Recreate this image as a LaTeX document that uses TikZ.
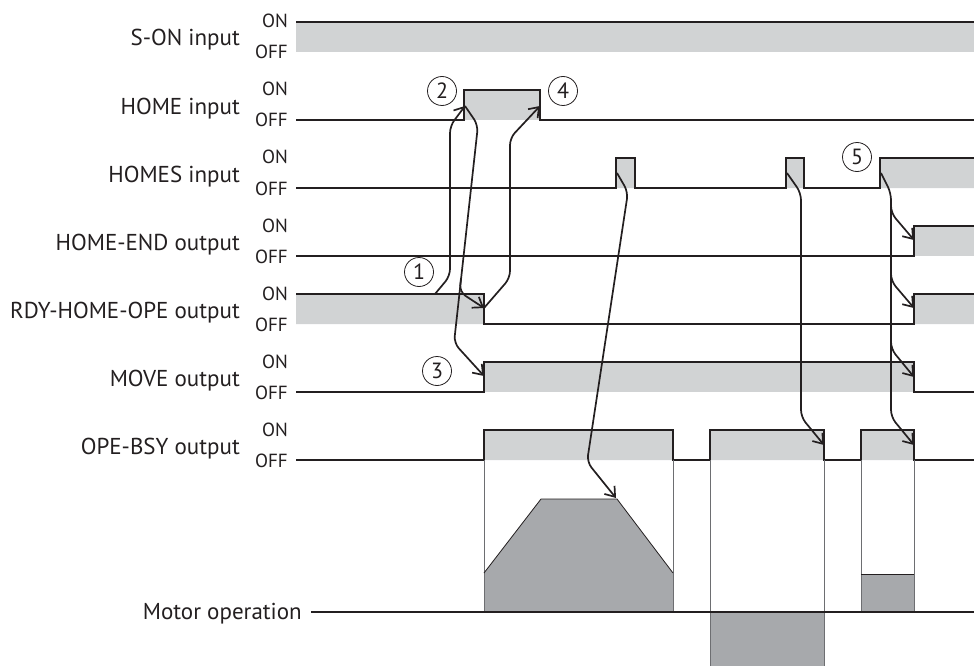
\documentclass[tikz,border=0pt]{standalone}
\usepackage{fontspec}
\setmainfont{PT Sans}
\usepackage{tikz}
\usetikzlibrary{arrows.meta,calc}
\definecolor{LevelFill}{HTML}{D1D3D4}
\definecolor{MotorFill}{HTML}{A7A9AC}
\definecolor{TraceInk}{HTML}{231F20}
\definecolor{GuideGray}{HTML}{6D6E71}

\begin{document}
\begin{tikzpicture}[
  x=1pt,y=-1pt,
  line join=miter,
  trace/.style={draw=TraceInk,line width=1.1pt},
  guide/.style={draw=GuideGray,line width=.55pt},
  cause/.style={-{Straight Barb[length=9pt,width=13pt]},draw=TraceInk,
    line width=1.7pt,rounded corners=7pt},
  signame/.style={anchor=base east,inner sep=0pt,text=TraceInk,
    font=\fontsize{23}{27}\selectfont},
  lvl/.style={anchor=base east,inner sep=0pt,text=TraceInk,
    font=\fontsize{19}{22}\selectfont},
  stepmark/.style={circle,draw=TraceInk,line width=.8pt,minimum size=29pt,
    inner sep=0pt,text=TraceInk,font=\fontsize{22}{26}\selectfont}
]
  \useasboundingbox (0,0) rectangle (974,666);

  % signal names and levels
  \node[signame] (sonname) at (240,46) {S-ON input};
  \node[lvl] (sonon) at (288,28) {ON};
  \node[lvl] (sonoff) at (288,59) {OFF};
  \node[signame] (homename) at (240,114) {HOME input};
  \node[lvl] (homeon) at (288,96) {ON};
  \node[lvl] (homeoff) at (288,127) {OFF};
  \node[signame] (homesname) at (240,182) {HOMES input};
  \node[lvl] (homeson) at (288,164) {ON};
  \node[lvl] (homesoff) at (288,195) {OFF};
  \node[signame] (endname) at (240,250) {HOME-END output};
  \node[lvl] (endon) at (288,232) {ON};
  \node[lvl] (endoff) at (288,263) {OFF};
  \node[signame] (rdyname) at (240,318) {RDY-HOME-OPE output};
  \node[lvl] (rdyon) at (288,300) {ON};
  \node[lvl] (rdyoff) at (288,331) {OFF};
  \node[signame] (movename) at (240,386) {MOVE output};
  \node[lvl] (moveon) at (288,368) {ON};
  \node[lvl] (moveoff) at (288,399) {OFF};
  \node[signame] (bsyname) at (240,454) {OPE-BSY output};
  \node[lvl] (bsyon) at (288,436) {ON};
  \node[lvl] (bsyoff) at (288,467) {OFF};
  \node[signame] (motorname) at (302,619) {Motor operation};

  % waveforms
  \fill[LevelFill] (296,22) rectangle (974,52);
  \draw[trace] (296,22) -- (974,22);

  \fill[LevelFill] (464,90) rectangle (540,120);
  \draw[trace] (296,120) -| (464,90) -| (540,120) -- (974,120);

  \fill[LevelFill] (616,158) rectangle (635,188) (786,158) rectangle (804,188)
    (880,158) rectangle (974,188);
  \draw[trace] (296,188) -| (616,158) -| (635,188) -| (786,158) -| (804,188)
    -| (880,158) -- (974,158);

  \fill[LevelFill] (914,226) rectangle (974,256);
  \draw[trace] (296,256) -| (914,226) -- (974,226);

  \fill[LevelFill] (296,294) rectangle (484,324) (914,294) rectangle (974,324);
  \draw[trace] (296,294) -| (484,324) -| (914,294) -- (974,294);

  \fill[LevelFill] (484,362) rectangle (914,392);
  \draw[trace] (296,392) -| (484,362) -| (914,392) -- (974,392);

  \fill[LevelFill] (484,430) rectangle (673,460) (710,430) rectangle (824,460)
    (861,430) rectangle (914,460);
  \draw[trace] (296,460) -| (484,430) -| (673,460) -| (710,430) -| (824,460)
    -| (861,430) -| (914,460) -- (974,460);

  % motor operation
  \fill[MotorFill] (484,612) -- (484,573) -- (541,499) -- (617,499)
    -- (673,573) -- (673,612) -- cycle;
  \fill[MotorFill] (710,612) rectangle (824,666);
  \fill[MotorFill] (861,574) rectangle (914,612);
  \draw[guide] (484,460) -- (484,612) (673,460) -- (673,612)
    (710,460) -- (710,666) (824,460) -- (824,666)
    (861,460) -- (861,612) (914,460) -- (914,612);
  \draw[trace,line width=.8pt] (484,573) -- (541,499) -- (617,499) -- (673,573);
  \draw[trace,line width=.8pt] (861,574) -- (914,574);
  \draw[trace] (311,612) -- (974,612);

  % causes
  \coordinate (rdyon1) at (435,294);
  \coordinate (homerise) at (465,106);
  \coordinate (homefall) at (540,106);
  \coordinate (rdyfall) at (484,308);
  \coordinate (moverise) at (484,376);
  \coordinate (pulsea) at (617,173);
  \coordinate (pulseb) at (787,173);
  \coordinate (homesrise) at (881,173);
  \coordinate (speedtop) at (616,498);
  \coordinate (bsyfallb) at (824,445);
  \coordinate (bsyfallc) at (914,445);
  \coordinate (endrise) at (914,240);
  \coordinate (rdyrise) at (914,308);
  \coordinate (movefall) at (914,377);

  \draw[cause] (rdyon1) -- (450,276) -- (450,126) -- (homerise);
  \draw[cause] (homerise) -- (478,125) -- (454,343) -- (moverise);
  \draw[cause] (461,278) -- (459.6,292) -- (rdyfall);
  \draw[cause] (rdyfall) -- (510,278) -- (510,138) -- (homefall);
  \draw[cause] (pulsea) -- (628,192) -- (587,462) -- (speedtop);
  \draw[cause] (pulseb) -- (801,193) -- (801,417) -- (bsyfallb);
  \draw[cause] (homesrise) -- (891,193) -- (891,417) -- (bsyfallc);
  \draw[cause] (891,200) -- (891,213) -- (endrise);
  \draw[cause] (891,268) -- (891,281) -- (rdyrise);
  \draw[cause] (891,336) -- (891,349) -- (movefall);

  \node[stepmark] (stepone) at (419,272) {1};
  \node[stepmark] (steptwo) at (442,91) {2};
  \node[stepmark] (stepthree) at (437,371) {3};
  \node[stepmark] (stepfour) at (563,91) {4};
  \node[stepmark] (stepfive) at (857,157) {5};
\end{tikzpicture}
\end{document}
